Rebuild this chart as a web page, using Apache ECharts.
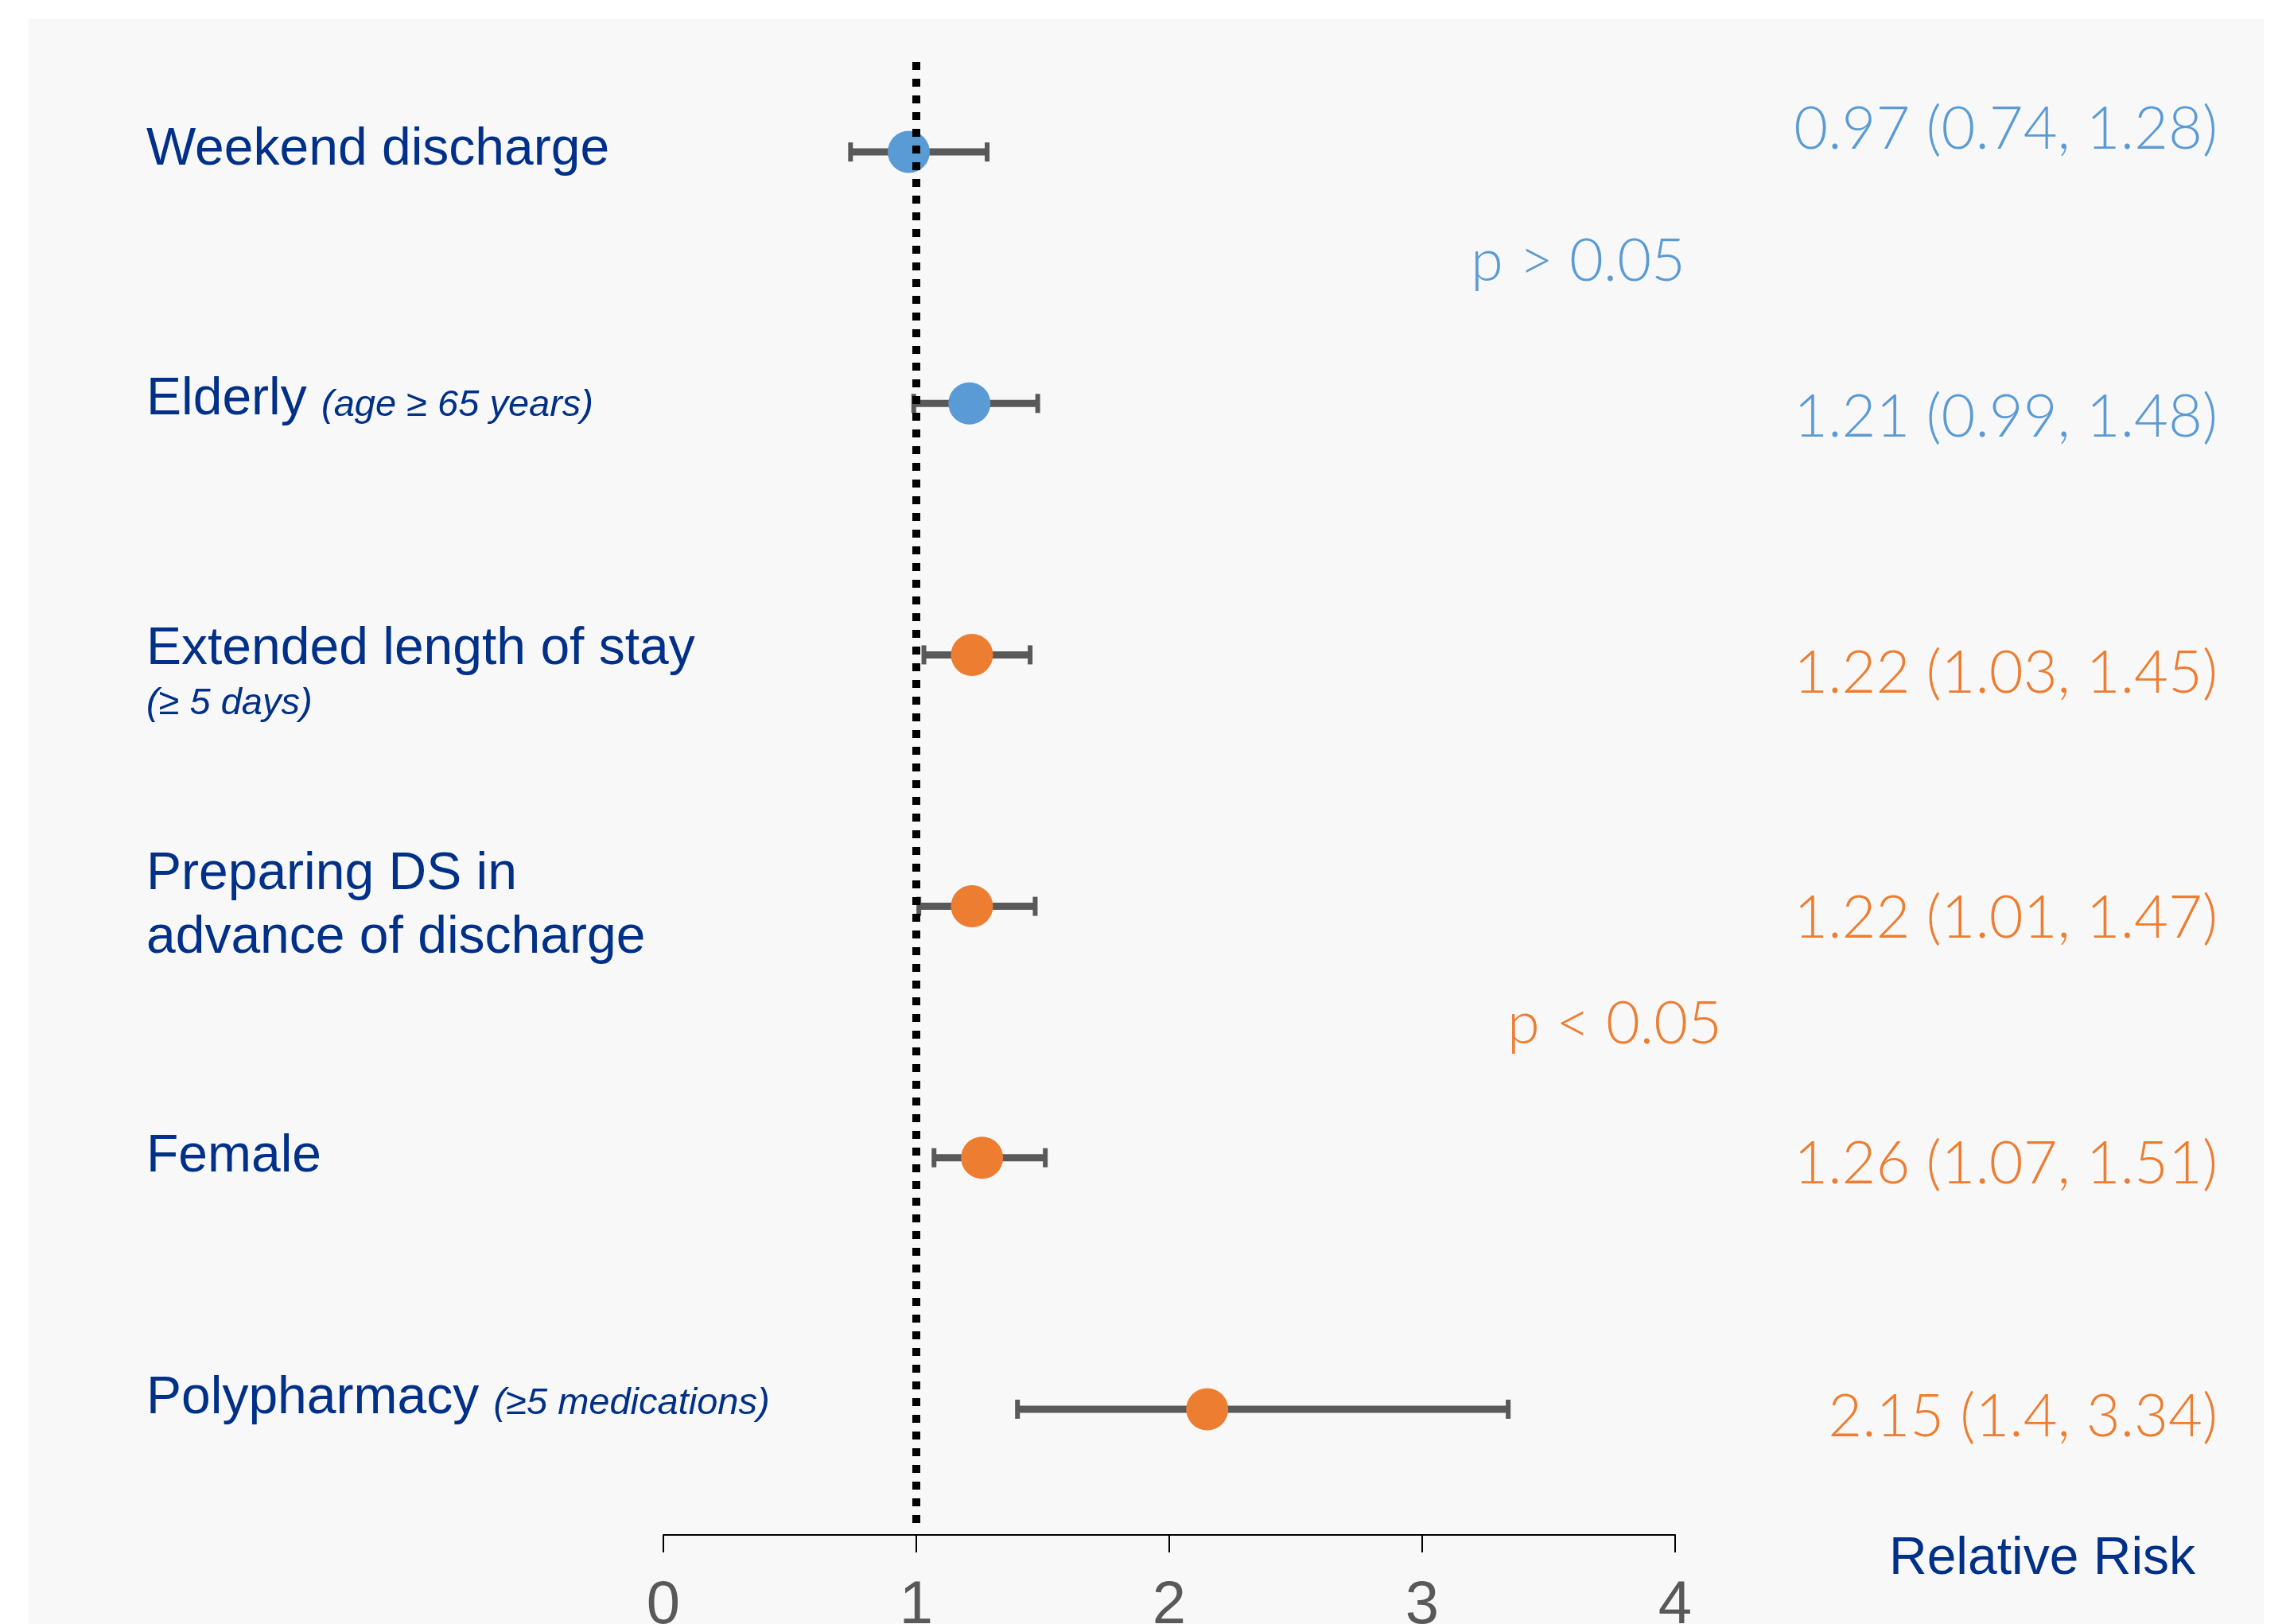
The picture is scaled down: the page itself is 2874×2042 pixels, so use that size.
<!DOCTYPE html>
<html><head><meta charset="utf-8">
<script src="https://cdn.jsdelivr.net/npm/echarts@6/dist/echarts.min.js"></script>
<style>html,body{margin:0;padding:0;background:#ffffff}#c{width:2874px;height:2042px}</style>
</head><body><div id="c"></div>
<script>
// ---- data ----
const categories = ['Weekend discharge', 'Elderly', 'Extended length of stay', 'Preparing DS in\nadvance of discharge', 'Female', 'Polypharmacy'];
const qualifiers = ['', '(age ≥ 65 years)', '(≥ 5 days)', '', '', '(≥5 medications)'];
const relativeRisk = [0.97, 1.21, 1.22, 1.22, 1.26, 2.15];
const ciLower = [0.74, 0.99, 1.03, 1.01, 1.07, 1.4];
const ciUpper = [1.28, 1.48, 1.45, 1.47, 1.51, 3.34];
const significant = [false, false, true, true, true, true];
const xTicks = [0, 1, 2, 3, 4];
const nullValue = 1;
const pLabels = ['p > 0.05', 'p < 0.05'];
const axisName = 'Relative Risk';

// ---- styles ----
const BLUE = '#5b9bd5', ORANGE = '#ed7d31', NAVY = '#003087', BAR = '#595959';
const SANS = '"Liberation Sans", Arial, Helvetica, sans-serif';
const THIN = 'Lato, Roboto, "Open Sans", sans-serif';
const LBL = {color: NAVY, fontFamily: SANS, fontSize: 66};
const ITL = {color: NAVY, fontFamily: SANS, fontSize: 47, fontStyle: 'italic'};
const annotShift = [-28, 18, 24, 16, 8, 10];

const leftRich = {
  a0: Object.assign({}, LBL, {padding: [0, 0, 5, 0]}),
  a1: Object.assign({}, LBL, {padding: [0, 0, 8, 0]}),
  q1: Object.assign({}, ITL, {padding: [13, 0, 8, 0]}),
  a2: Object.assign({}, LBL, {lineHeight: 124}),
  q2: Object.assign({}, ITL, {lineHeight: 14}),
  a3: Object.assign({}, LBL, {lineHeight: 80}),
  b3: Object.assign({}, LBL, {lineHeight: 80}),
  a4: Object.assign({}, LBL, {padding: [0, 0, 1, 0]}),
  a5: Object.assign({}, LBL, {padding: [0, 0, 26, 0]}),
  q5: Object.assign({}, ITL, {padding: [13, 0, 26, 0]})
};
function leftLabel(value, idx) {
  const q = qualifiers[idx];
  if (idx === 2) return '{a2|' + value + '}\n{q2|' + q + '}';
  if (idx === 3) { const p = value.split('\n'); return '{a3|' + p[0] + '}\n{b3|' + p[1] + '}'; }
  if (q) return '{a' + idx + '|' + value + ' }{q' + idx + '|' + q + '}';
  return '{a' + idx + '|' + value + '}';
}

const rightRich = {};
annotShift.forEach((s, i) => {
  rightRich['r' + i] = {
    color: significant[i] ? ORANGE : BLUE,
    fontFamily: THIN, fontWeight: 300, fontSize: 74,
    padding: s < 0 ? [0, 0, -2 * s, 0] : [2 * s, 0, 0, 0]
  };
});
function rightLabel(value, idx) {
  return '{r' + idx + '|' + relativeRisk[idx] + ' (' + ciLower[idx] + ', ' + ciUpper[idx] + ')}';
}

const chart = echarts.init(document.getElementById('c'), null, {renderer: 'canvas'});
chart.setOption({
  animation: false,
  backgroundColor: '#ffffff',
  grid: {left: 834, right: 768, top: 33, bottom: 112, containLabel: false, outerBoundsMode: 'none'},
  xAxis: {
    type: 'value',
    min: xTicks[0], max: xTicks[xTicks.length - 1], interval: xTicks[1] - xTicks[0],
    axisLine: {show: true, onZero: false, lineStyle: {color: '#000', width: 2}},
    axisTick: {show: true, length: 22, lineStyle: {color: '#000', width: 2}},
    splitLine: {show: false},
    axisLabel: {margin: 52, fontSize: 76, color: '#595959', fontFamily: SANS},
    name: axisName, nameLocation: 'end', nameGap: 269,
    nameTextStyle: {color: NAVY, fontFamily: SANS, fontSize: 66, align: 'left', verticalAlign: 'top', lineHeight: 62}
  },
  yAxis: [{
    type: 'category', data: categories, inverse: true, position: 'left',
    axisLine: {show: false}, axisTick: {show: false}, splitLine: {show: false},
    axisLabel: {interval: 0, align: 'left', margin: 650, formatter: leftLabel, rich: leftRich}
  }, {
    type: 'category', data: categories, inverse: true, position: 'right',
    axisLine: {show: false}, axisTick: {show: false}, splitLine: {show: false},
    axisLabel: {interval: 0, align: 'right', margin: 682, formatter: rightLabel, rich: rightRich}
  }],
  graphic: [
    {type: 'rect', z: -100, shape: {x: 36, y: 24, width: 2810, height: 2040}, style: {fill: '#f8f8f8'}},
    {type: 'text', x: 1984, y: 329, style: {text: pLabels[0], fill: BLUE, fontFamily: THIN, fontWeight: 300, fontSize: 74, align: 'center', verticalAlign: 'middle'}},
    {type: 'text', x: 2030, y: 1288, style: {text: pLabels[1], fill: ORANGE, fontFamily: THIN, fontWeight: 300, fontSize: 74, align: 'center', verticalAlign: 'middle'}}
  ],
  series: [
    {
      type: 'custom', name: 'ci', z: 2, clip: false,
      encode: {x: [0, 1], y: 2},
      data: categories.map((c, i) => [ciLower[i], ciUpper[i], i]),
      renderItem: function (params, api) {
        const y = api.value(2);
        const p1 = api.coord([api.value(0), y]);
        const p2 = api.coord([api.value(1), y]);
        const h = 12;
        const st = {stroke: BAR, lineWidth: 9};
        const cap = {stroke: BAR, lineWidth: 6};
        return {type: 'group', children: [
          {type: 'line', shape: {x1: p1[0], y1: p1[1], x2: p2[0], y2: p2[1]}, style: st},
          {type: 'line', shape: {x1: p1[0], y1: p1[1] - h, x2: p1[0], y2: p1[1] + h}, style: cap},
          {type: 'line', shape: {x1: p2[0], y1: p2[1] - h, x2: p2[0], y2: p2[1] + h}, style: cap}
        ]};
      }
    },
    {
      type: 'scatter', name: 'RR', z: 3, symbol: 'circle', symbolSize: 53,
      data: categories.map((c, i) => ({value: [relativeRisk[i], i], itemStyle: {color: significant[i] ? ORANGE : BLUE, opacity: 1}}))
    },
    {
      type: 'custom', name: 'ref', z: 5, clip: false,
      encode: {x: 0, y: 1},
      data: [[nullValue, 0]],
      renderItem: function (params, api) {
        const x = api.coord([api.value(0), 0])[0];
        const cs = params.coordSys;
        return {type: 'line', shape: {x1: x, y1: cs.y + 45, x2: x, y2: cs.y + cs.height - 4},
          style: {stroke: '#000', lineWidth: 10, lineDash: [10, 11], lineCap: 'butt'}};
      }
    }
  ]
});
</script></body></html>
